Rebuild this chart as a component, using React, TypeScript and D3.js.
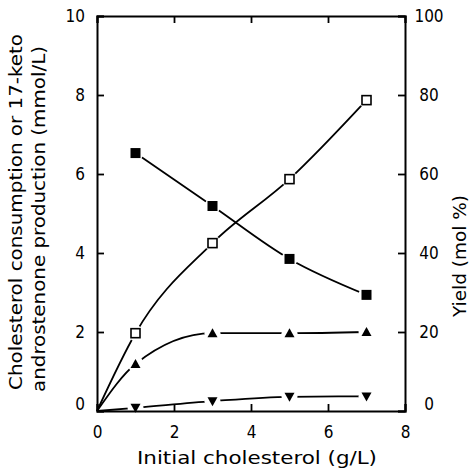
import React, { useEffect, useRef } from "react";
import * as d3 from "d3";

// initial cholesterol (g/L)
const doses = [1, 3, 5, 7];
// open squares: cholesterol consumption (mmol/L)
const consumption = [1.97, 4.25, 5.87, 7.87];
// filled triangles up: 17-keto androstenone production (mmol/L)
const productionUp = [1.19, 1.97, 1.97, 2.0];
// filled triangles down (mmol/L)
const productionDown = [0.08, 0.25, 0.36, 0.37];
// filled squares: yield (mol %)
const yieldPct = [65.3, 51.9, 38.5, 29.4];

const xTicks = [0, 2, 4, 6, 8];
const leftTicks = [0, 2, 4, 6, 8, 10];
const rightTicks = [0, 20, 40, 60, 80, 100];

const FONT = "'DejaVu Sans Condensed', 'DejaVu Sans', sans-serif";

export default function App() {
  const ref = useRef<SVGSVGElement>(null);

  useEffect(() => {
    const svg = d3.select(ref.current);
    svg.selectAll("*").remove();

    const left = 97, right = 405, top = 16, bottom = 411;
    const x = d3.scaleLinear().domain([0, 8]).range([left, right]);
    const y = d3.scaleLinear().domain([0, 10]).range([bottom, top]);
    const y2 = d3.scaleLinear().domain([0, 100]).range([bottom, top]);

    const line = d3
      .line<[number, number]>()
      .x((d) => x(d[0]))
      .y((d) => y(d[1]))
      .curve(d3.curveMonotoneX);
    const line2 = d3
      .line<[number, number]>()
      .x((d) => x(d[0]))
      .y((d) => y2(d[1]))
      .curve(d3.curveMonotoneX);

    const withOrigin = (vals: number[]): [number, number][] => [
      [0, 0],
      ...doses.map((d, i) => [d, vals[i]] as [number, number]),
    ];

    // lines
    const lines = svg.append("g").attr("fill", "none").attr("stroke", "#000").attr("stroke-width", 1.8);
    lines.append("path").attr("d", line(withOrigin(consumption)));
    lines.append("path").attr("d", line(withOrigin(productionUp)));
    lines.append("path").attr("d", line(withOrigin(productionDown)));
    lines.append("path").attr("d", line2(doses.map((d, i) => [d, yieldPct[i]] as [number, number])));

    // markers with a white halo so lines stop short of them
    const series = [
      { vals: consumption, sc: y, type: "openSquare" },
      { vals: yieldPct, sc: y2, type: "square" },
      { vals: productionUp, sc: y, type: "up" },
      { vals: productionDown, sc: y, type: "down" },
    ];
    const halos = svg.append("g");
    const marks = svg.append("g");
    series.forEach((s) => {
      doses.forEach((d, i) => {
        const cx = x(d);
        const cy = s.sc(s.vals[i]);
        halos.append("circle").attr("cx", cx).attr("cy", cy).attr("r", 8).attr("fill", "#fff");
        if (s.type === "openSquare") {
          marks.append("rect").attr("x", cx - 4.5).attr("y", cy - 4.5).attr("width", 9).attr("height", 9)
            .attr("fill", "#fff").attr("stroke", "#000").attr("stroke-width", 1.6);
        } else if (s.type === "square") {
          marks.append("rect").attr("x", cx - 5).attr("y", cy - 5).attr("width", 10).attr("height", 10).attr("fill", "#000");
        } else if (s.type === "up") {
          marks.append("path").attr("d", `M${cx - 5},${cy + 4}L${cx + 5},${cy + 4}L${cx},${cy - 5}Z`).attr("fill", "#000");
        } else {
          marks.append("path").attr("d", `M${cx - 5},${cy - 4}L${cx + 5},${cy - 4}L${cx},${cy + 5}Z`).attr("fill", "#000");
        }
      });
    });

    // axes
    const axB = svg.append("g").attr("transform", `translate(0,${bottom})`)
      .call(d3.axisBottom(x).tickValues(xTicks).tickSize(-7).tickFormat(d3.format("d")));
    axB.selectAll("text").attr("y", 21).attr("dy", "0.35em");
    svg.append("g").attr("transform", `translate(0,${top})`)
      .call(d3.axisTop(x).tickValues(xTicks).tickSize(-7).tickFormat(() => ""));
    const axL = svg.append("g").attr("transform", `translate(${left},0)`)
      .call(d3.axisLeft(y).tickValues(leftTicks).tickSize(-7).tickPadding(12).tickFormat(d3.format("d")));
    axL.selectAll("text").filter((d) => d === 0).attr("y", -7);
    const axR = svg.append("g").attr("transform", `translate(${right},0)`)
      .call(d3.axisRight(y2).tickValues(rightTicks).tickSize(-7).tickFormat(d3.format("d")));
    axR.selectAll("text").attr("x", 24).attr("text-anchor", "middle");
    axR.selectAll("text").filter((d) => d === 0).attr("y", -7);

    svg.selectAll(".domain").attr("stroke", "#000").attr("stroke-width", 2);
    svg.selectAll(".tick line").attr("stroke", "#000").attr("stroke-width", 1.8);
    svg.selectAll(".tick text").attr("fill", "#000").style("font-family", FONT).style("font-size", "17px");

    // titles
    const title = (t: string, tx: number, ty: number, rot: boolean, len: number) =>
      svg.append("text").text(t)
        .attr("transform", `translate(${tx},${ty})${rot ? " rotate(-90)" : ""}`)
        .attr("text-anchor", "middle")
        .attr("textLength", len)
        .attr("lengthAdjust", "spacingAndGlyphs")
        .style("font-family", FONT).style("font-size", "17px").attr("fill", "#000");
    title("Initial cholesterol (g/L)", 257, 464, false, 240);
    title("Cholesterol consumption or 17-keto", 22, 212, true, 356);
    title("androstenone production (mmol/L)", 45, 219, true, 346);
    title("Yield (mol %)", 466, 256, true, 122);
  }, []);

  return (
    <svg ref={ref} width={471} height={470}
      style={{ position: "absolute", left: 0, top: 0, background: "#fff" }} />
  );
}
